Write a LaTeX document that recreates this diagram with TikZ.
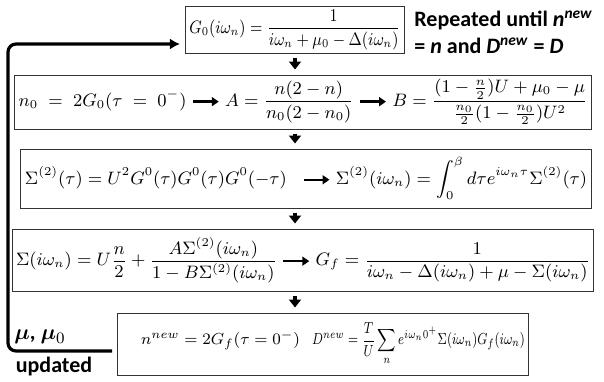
\documentclass[tikz,border=0pt]{standalone}
\usepackage{amsmath, amssymb, bm, graphicx}
\usepackage{fontspec}
\newfontfamily\labelfont{Carlito}
\usepackage{tikz}
\usetikzlibrary{arrows.meta,positioning,calc}
\tikzset{
  eqbox/.style={rectangle, draw=black!80, line width=0.5pt, inner sep=2pt,
                font=\fontsize{#1}{#1}\selectfont},
  downarr/.style={-{Triangle[length=4pt,width=6pt]}, line width=2.2pt,
                  shorten <=2pt, shorten >=2.5pt},
  backline/.style={-{Latex[length=5pt,width=5.5pt]}, line width=1.6pt,
                   rounded corners=4pt},
  note/.style={font=\labelfont\bfseries\fontsize{11}{12.5}\selectfont, inner sep=0pt},
}
\newcommand{\thickarr}{\mathrel{\tikz[baseline=-0.6ex]\draw[-{Triangle[length=3.5pt,width=4.5pt]},line width=1.2pt](0,0)--(13pt,0);}}
\newcommand{\squeeze}[2]{\scalebox{#1}[1]{$\displaystyle #2$}}

\begin{document}
\begin{tikzpicture}[x=0.5pt, y=-0.5pt]
  \useasboundingbox (0,0) rectangle (604,381);
  \node[eqbox=8.8, minimum width=108pt, minimum height=23pt] (g0) at (295,30)
    {\squeeze{0.86}{G_0(i\omega_n)=\frac{1}{i\omega_n+\mu_0-\Delta(i\omega_n)}}};
  \node[eqbox=8.8, minimum width=287pt, minimum height=27pt] (nzero) at (303,102)
    {$\displaystyle n_0\;=\;2G_0(\tau\;=\;0^-)\thickarr A=\frac{n(2-n)}{n_0(2-n_0)}\thickarr B=\frac{(1-\frac{n}{2})U+\mu_0-\mu}{\frac{n_0}{2}(1-\frac{n_0}{2})U^2}$};
  \node[eqbox=8.6, minimum width=280pt, minimum height=29.5pt] (sigtwo) at (306,178.5)
    {$\displaystyle \Sigma^{(2)}(\tau)=U^2G^0(\tau)G^0(\tau)G^0(-\tau)\;\;\thickarr\Sigma^{(2)}(i\omega_n)=\int_0^\beta d\tau e^{i\omega_n\tau}\Sigma^{(2)}(\tau)$};
  \node[eqbox=8.9, minimum width=289pt, minimum height=31pt] (sigma) at (303,260)
    {$\displaystyle \Sigma(i\omega_n)=U\frac{n}{2}+\frac{A\Sigma^{(2)}(i\omega_n)}{1-B\Sigma^{(2)}(i\omega_n)}\thickarr G_f=\frac{1}{i\omega_n-\Delta(i\omega_n)+\mu-\Sigma(i\omega_n)}$};
  \node[eqbox=7.9, minimum width=205pt, minimum height=31pt] (nnew) at (323,344)
    {\hspace*{10pt}$\displaystyle n^{new}=2G_f(\tau=0^-)$\hspace{6pt}\squeeze{0.76}{D^{new}=\frac{T}{U}\sum_n e^{i\omega_n0^+}\Sigma(i\omega_n)G_f(i\omega_n)}};
  \node[note, anchor=north west, align=left] (repeat) at (414,11)
    {Repeated until \textit{n}\textsuperscript{\textit{new}}\\[1pt]= \textit{n} and \textit{D}\textsuperscript{\textit{new}} = \textit{D}};
  \node[note] (mulab) at (40,337) {$\bm{\mu}$, $\bm{\mu}_0$};
  \node[note] (updlab) at (54,367) {updated};
  \coordinate (upd) at (112,351);
  \coordinate (corner) at (8,44);
  \foreach \a/\b in {g0/nzero, nzero/sigtwo, sigtwo/sigma, sigma/nnew}
    \draw[downarr] (\a.south -| g0) -- (\b.north -| g0);
  \draw[backline] (upd) -| (corner) -- ([xshift=-2.5pt]g0.west |- corner);
\end{tikzpicture}
\end{document}
